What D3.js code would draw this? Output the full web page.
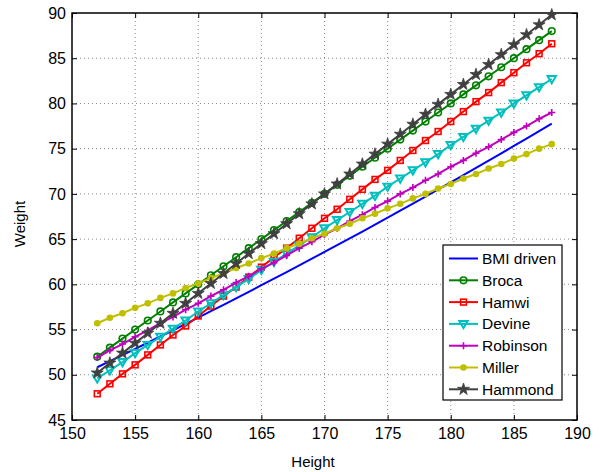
<!DOCTYPE html>
<html>
<head>
<meta charset="utf-8">
<script src="https://cdn.jsdelivr.net/npm/d3@7"></script>
<style>
  body { margin: 0; background: #fff; }
  svg { font-family: "Liberation Sans", Arial, sans-serif; }
</style>
</head>
<body>
<div id="chart"></div>
<script>
const heights = d3.range(152, 189);

const bmiDriven = [50.83, 51.50, 52.18, 52.86, 53.54, 54.23, 54.92, 55.62, 56.32, 57.03, 57.74, 58.45, 59.17, 59.90, 60.62, 61.36, 62.09, 62.83, 63.58, 64.33, 65.08, 65.84, 66.61, 67.38, 68.15, 68.92, 69.70, 70.49, 71.28, 72.07, 72.87, 73.68, 74.48, 75.30, 76.11, 76.93, 77.76];
const broca = [52, 53, 54, 55, 56, 57, 58, 59, 60, 61, 62, 63, 64, 65, 66, 67, 68, 69, 70, 71, 72, 73, 74, 75, 76, 77, 78, 79, 80, 81, 82, 83, 84, 85, 86, 87, 88];
const hamwi = [47.9, 49.0, 50.1, 51.1, 52.2, 53.3, 54.4, 55.4, 56.5, 57.6, 58.7, 59.7, 60.8, 61.9, 63.0, 64.0, 65.1, 66.2, 67.3, 68.3, 69.4, 70.5, 71.6, 72.6, 73.7, 74.8, 75.9, 76.9, 78.0, 79.1, 80.2, 81.2, 82.3, 83.4, 84.5, 85.5, 86.6];
const devine = [49.6, 50.5, 51.4, 52.4, 53.3, 54.2, 55.1, 56.0, 57.0, 57.9, 58.8, 59.7, 60.6, 61.6, 62.5, 63.4, 64.3, 65.2, 66.2, 67.1, 68.0, 68.9, 69.8, 70.8, 71.7, 72.6, 73.5, 74.4, 75.4, 76.3, 77.2, 78.1, 79.0, 80.0, 80.9, 81.8, 82.7];
const robinson = [51.9, 52.7, 53.4, 54.2, 54.9, 55.7, 56.4, 57.2, 57.9, 58.7, 59.4, 60.2, 60.9, 61.7, 62.4, 63.2, 64.0, 64.7, 65.5, 66.2, 67.0, 67.7, 68.5, 69.2, 70.0, 70.7, 71.5, 72.2, 73.0, 73.7, 74.5, 75.2, 76.0, 76.8, 77.5, 78.3, 79.0];
const miller = [55.7, 56.3, 56.8, 57.4, 57.9, 58.5, 59.0, 59.6, 60.1, 60.7, 61.2, 61.8, 62.3, 62.9, 63.4, 64.0, 64.5, 65.1, 65.6, 66.2, 66.7, 67.3, 67.8, 68.4, 68.9, 69.5, 70.0, 70.6, 71.1, 71.7, 72.2, 72.8, 73.3, 73.9, 74.4, 75.0, 75.5];
const hammond = [50.2, 51.3, 52.4, 53.5, 54.6, 55.7, 56.8, 57.9, 59.0, 60.1, 61.2, 62.3, 63.4, 64.5, 65.6, 66.7, 67.8, 68.9, 70.0, 71.1, 72.2, 73.3, 74.4, 75.5, 76.6, 77.7, 78.8, 79.9, 81.0, 82.1, 83.2, 84.3, 85.4, 86.5, 87.6, 88.7, 89.8];

const xTicks = [150, 155, 160, 165, 170, 175, 180, 185, 190];
const yTicks = [45, 50, 55, 60, 65, 70, 75, 80, 85, 90];

const series = [
  { name: 'BMI driven', values: bmiDriven, color: '#0000ff', marker: 'none' },
  { name: 'Broca', values: broca, color: '#008000', marker: 'circle' },
  { name: 'Hamwi', values: hamwi, color: '#ff0000', marker: 'square' },
  { name: 'Devine', values: devine, color: '#00bfbf', marker: 'triangle' },
  { name: 'Robinson', values: robinson, color: '#bf00bf', marker: 'plus' },
  { name: 'Miller', values: miller, color: '#bfbf00', marker: 'dot' },
  { name: 'Hammond', values: hammond, color: '#404040', marker: 'star' }
];

const width = 601, height = 472;
const margin = { top: 13, right: 24, bottom: 52, left: 72 };
const innerW = width - margin.left - margin.right;
const innerH = height - margin.top - margin.bottom;

const svg = d3.select('#chart').append('svg')
  .attr('width', width)
  .attr('height', height);

const g = svg.append('g').attr('transform', `translate(${margin.left},${margin.top})`);

const x = d3.scaleLinear().domain([150, 190]).range([0, innerW]);
const y = d3.scaleLinear().domain([45, 90]).range([innerH, 0]);

// dotted grid
g.append('g').selectAll('line').data(xTicks.slice(1, -1)).join('line')
  .attr('x1', d => x(d)).attr('x2', d => x(d))
  .attr('y1', 0).attr('y2', innerH)
  .attr('stroke', '#888').attr('stroke-width', 1).attr('stroke-dasharray', '1,3');
g.append('g').selectAll('line').data(yTicks.slice(1, -1)).join('line')
  .attr('x1', 0).attr('x2', innerW)
  .attr('y1', d => y(d)).attr('y2', d => y(d))
  .attr('stroke', '#888').attr('stroke-width', 1).attr('stroke-dasharray', '1,3');

// axes with inward ticks on all four sides
const tickLen = 5;
const xBottom = g.append('g').attr('transform', `translate(0,${innerH})`)
  .call(d3.axisBottom(x).tickValues(xTicks).tickSizeInner(-tickLen).tickSizeOuter(0).tickPadding(8));
const yLeft = g.append('g')
  .call(d3.axisLeft(y).tickValues(yTicks).tickSizeInner(-tickLen).tickSizeOuter(0).tickPadding(6));
g.append('g')
  .call(d3.axisTop(x).tickValues(xTicks).tickSizeInner(-tickLen).tickSizeOuter(0).tickFormat(''));
g.append('g').attr('transform', `translate(${innerW},0)`)
  .call(d3.axisRight(y).tickValues(yTicks).tickSizeInner(-tickLen).tickSizeOuter(0).tickFormat(''));

g.selectAll('.domain').remove();
g.selectAll('.tick line').attr('stroke', '#000');
[xBottom, yLeft].forEach(a => a.selectAll('text')
  .attr('font-size', 16).attr('fill', '#000')
  .attr('font-family', '"Liberation Sans", Arial, sans-serif'));

g.append('rect')
  .attr('x', 0).attr('y', 0).attr('width', innerW).attr('height', innerH)
  .attr('fill', 'none').attr('stroke', '#000').attr('stroke-width', 1.5);

// axis labels
svg.append('text')
  .attr('x', 313).attr('y', 467)
  .attr('text-anchor', 'middle').attr('font-size', 15)
  .text('Height');
svg.append('text')
  .attr('transform', 'translate(25,224) rotate(-90)')
  .attr('text-anchor', 'middle').attr('font-size', 15)
  .text('Weight');

function drawMarker(sel, type, color) {
  if (type === 'circle') {
    sel.append('circle').attr('r', 3.3).attr('fill', 'none')
      .attr('stroke', color).attr('stroke-width', 1.6);
  } else if (type === 'square') {
    sel.append('rect').attr('x', -2.9).attr('y', -2.9).attr('width', 5.8).attr('height', 5.8)
      .attr('fill', 'none').attr('stroke', color).attr('stroke-width', 1.6);
  } else if (type === 'triangle') {
    sel.append('path').attr('d', 'M-4.2,-3L4.2,-3L0,4.2Z')
      .attr('fill', 'none').attr('stroke', color).attr('stroke-width', 2);
  } else if (type === 'plus') {
    sel.append('path').attr('d', 'M-3.5,0H3.5M0,-3.5V3.5')
      .attr('stroke', color).attr('stroke-width', 1.6);
  } else if (type === 'dot') {
    sel.append('circle').attr('r', 3.3).attr('fill', color);
  } else if (type === 'star') {
    sel.append('path')
      .attr('d', d3.symbol().type(d3.symbolStar).size(45)())
      .attr('fill', color).attr('stroke', color).attr('stroke-width', 0.8);
  }
}

const line = d3.line().x((d, i) => x(heights[i])).y(d => y(d));

series.forEach(s => {
  const sg = g.append('g');
  sg.append('path')
    .attr('d', line(s.values))
    .attr('fill', 'none').attr('stroke', s.color).attr('stroke-width', 2);
  if (s.marker !== 'none') {
    sg.selectAll('g.m').data(s.values).join('g')
      .attr('class', 'm')
      .attr('transform', (d, i) => `translate(${x(heights[i])},${y(d)})`)
      .each(function () { drawMarker(d3.select(this), s.marker, s.color); });
  }
});

// legend
const lg = svg.append('g').attr('transform', 'translate(443,245)');
lg.append('rect').attr('width', 119).attr('height', 155)
  .attr('fill', '#fff').attr('stroke', '#000').attr('stroke-width', 1.2);
series.forEach((s, i) => {
  const row = lg.append('g').attr('transform', `translate(0,${13.5 + i * 21.8})`);
  row.append('line').attr('x1', 6).attr('x2', 35).attr('y1', 0).attr('y2', 0)
    .attr('stroke', s.color).attr('stroke-width', 2);
  if (s.marker !== 'none') {
    const m = row.append('g').attr('transform', 'translate(20.5,0)');
    drawMarker(m, s.marker, s.color);
  }
  row.append('text').attr('x', 39).attr('y', 5.5)
    .attr('font-size', 15.5).text(s.name);
});
</script>
</body>
</html>
